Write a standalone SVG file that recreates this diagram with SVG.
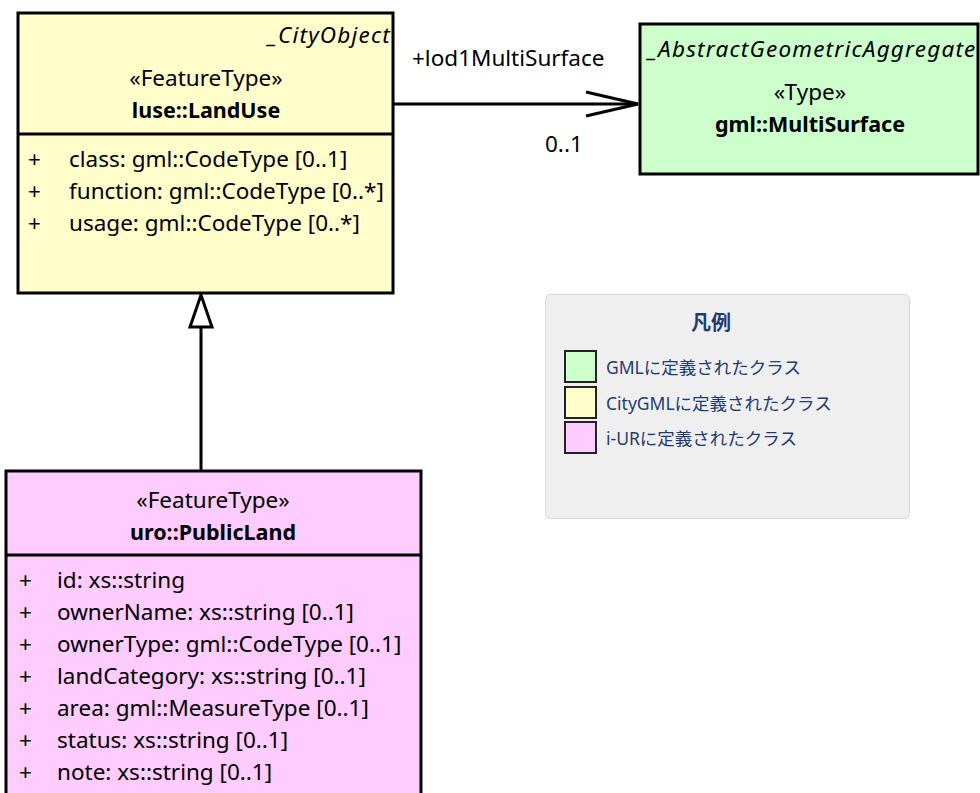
<svg xmlns="http://www.w3.org/2000/svg" width="980" height="793" viewBox="0 0 980 793">
<defs>
<style>
text{font-family:"Noto Sans","Open Sans",sans-serif;font-size:22.5px;fill:#000}
.b{font-weight:bold;font-size:21.5px}
.i{font-style:italic}
.c{text-anchor:middle}
.r{text-anchor:end}
.box{stroke:#000;stroke-width:3}
.lg{font-size:17.5px;fill:#1f3b73;font-family:"Noto Sans","Noto Sans CJK JP",sans-serif}
.sw{stroke:#222;stroke-width:2}
</style>
</defs>
<rect width="980" height="793" fill="#fff"/>
<g id="connectors" fill="none" stroke="#000" stroke-width="3">
<line x1="393" y1="104" x2="638" y2="104"/>
<polyline points="586,92 638,104 586,116"/>
<line x1="201" y1="472" x2="201" y2="327"/>
<polygon points="201,295 190,327 212,327" fill="#fff"/>
</g>
<g id="conn-labels">
<text x="412" y="66">+lod1MultiSurface</text>
<text x="545" y="152">0..1</text>
</g>
<g id="LandUse">
<rect class="box" x="18" y="13" width="375" height="280" fill="#ffffcc"/>
<line class="box" x1="18" y1="134" x2="393" y2="134"/>
<text class="i r" x="391" y="43" letter-spacing="1.2">_CityObject</text>
<text class="c" x="206" y="86">«FeatureType»</text>
<text class="b c" x="206" y="118">luse::LandUse</text>
<text x="28" y="167">+</text><text x="69" y="167">class: gml::CodeType [0..1]</text>
<text x="28" y="199">+</text><text x="69" y="199">function: gml::CodeType [0..*]</text>
<text x="28" y="231">+</text><text x="69" y="231">usage: gml::CodeType [0..*]</text>
</g>
<g id="MultiSurface">
<rect class="box" x="640" y="24" width="338" height="150" fill="#ccffcc"/>
<text class="i" x="648" y="57" letter-spacing="1.2">_AbstractGeometricAggregate</text>
<text class="c" x="810" y="100">«Type»</text>
<text class="b c" x="810" y="132">gml::MultiSurface</text>
</g>
<g id="PublicLand">
<rect class="box" x="6" y="471" width="415" height="340" fill="#ffccff"/>
<line class="box" x1="6" y1="555" x2="421" y2="555"/>
<text class="c" x="213" y="508">«FeatureType»</text>
<text class="b c" x="213" y="540">uro::PublicLand</text>
<text x="19" y="588">+</text><text x="57" y="588">id: xs::string</text>
<text x="19" y="620">+</text><text x="57" y="620">ownerName: xs::string [0..1]</text>
<text x="19" y="652">+</text><text x="57" y="652">ownerType: gml::CodeType [0..1]</text>
<text x="19" y="684">+</text><text x="57" y="684">landCategory: xs::string [0..1]</text>
<text x="19" y="716">+</text><text x="57" y="716">area: gml::MeasureType [0..1]</text>
<text x="19" y="748">+</text><text x="57" y="748">status: xs::string [0..1]</text>
<text x="19" y="780">+</text><text x="57" y="780">note: xs::string [0..1]</text>
</g>
<g id="legend">
<rect x="545.5" y="294.5" width="364" height="224" rx="5" fill="#efefef" stroke="#d6d6d6"/>
<text class="lg b c" x="711" y="330" style="font-size:20px">凡例</text>
<rect class="sw" x="565" y="351" width="31" height="31" fill="#ccffcc"/>
<rect class="sw" x="565" y="387" width="31" height="31" fill="#ffffcc"/>
<rect class="sw" x="565" y="422" width="31" height="31" fill="#ffccff"/>
<text class="lg" x="606" y="374">GMLに定義されたクラス</text>
<text class="lg" x="606" y="410">CityGMLに定義されたクラス</text>
<text class="lg" x="606" y="445">i-URに定義されたクラス</text>
</g>
</svg>
